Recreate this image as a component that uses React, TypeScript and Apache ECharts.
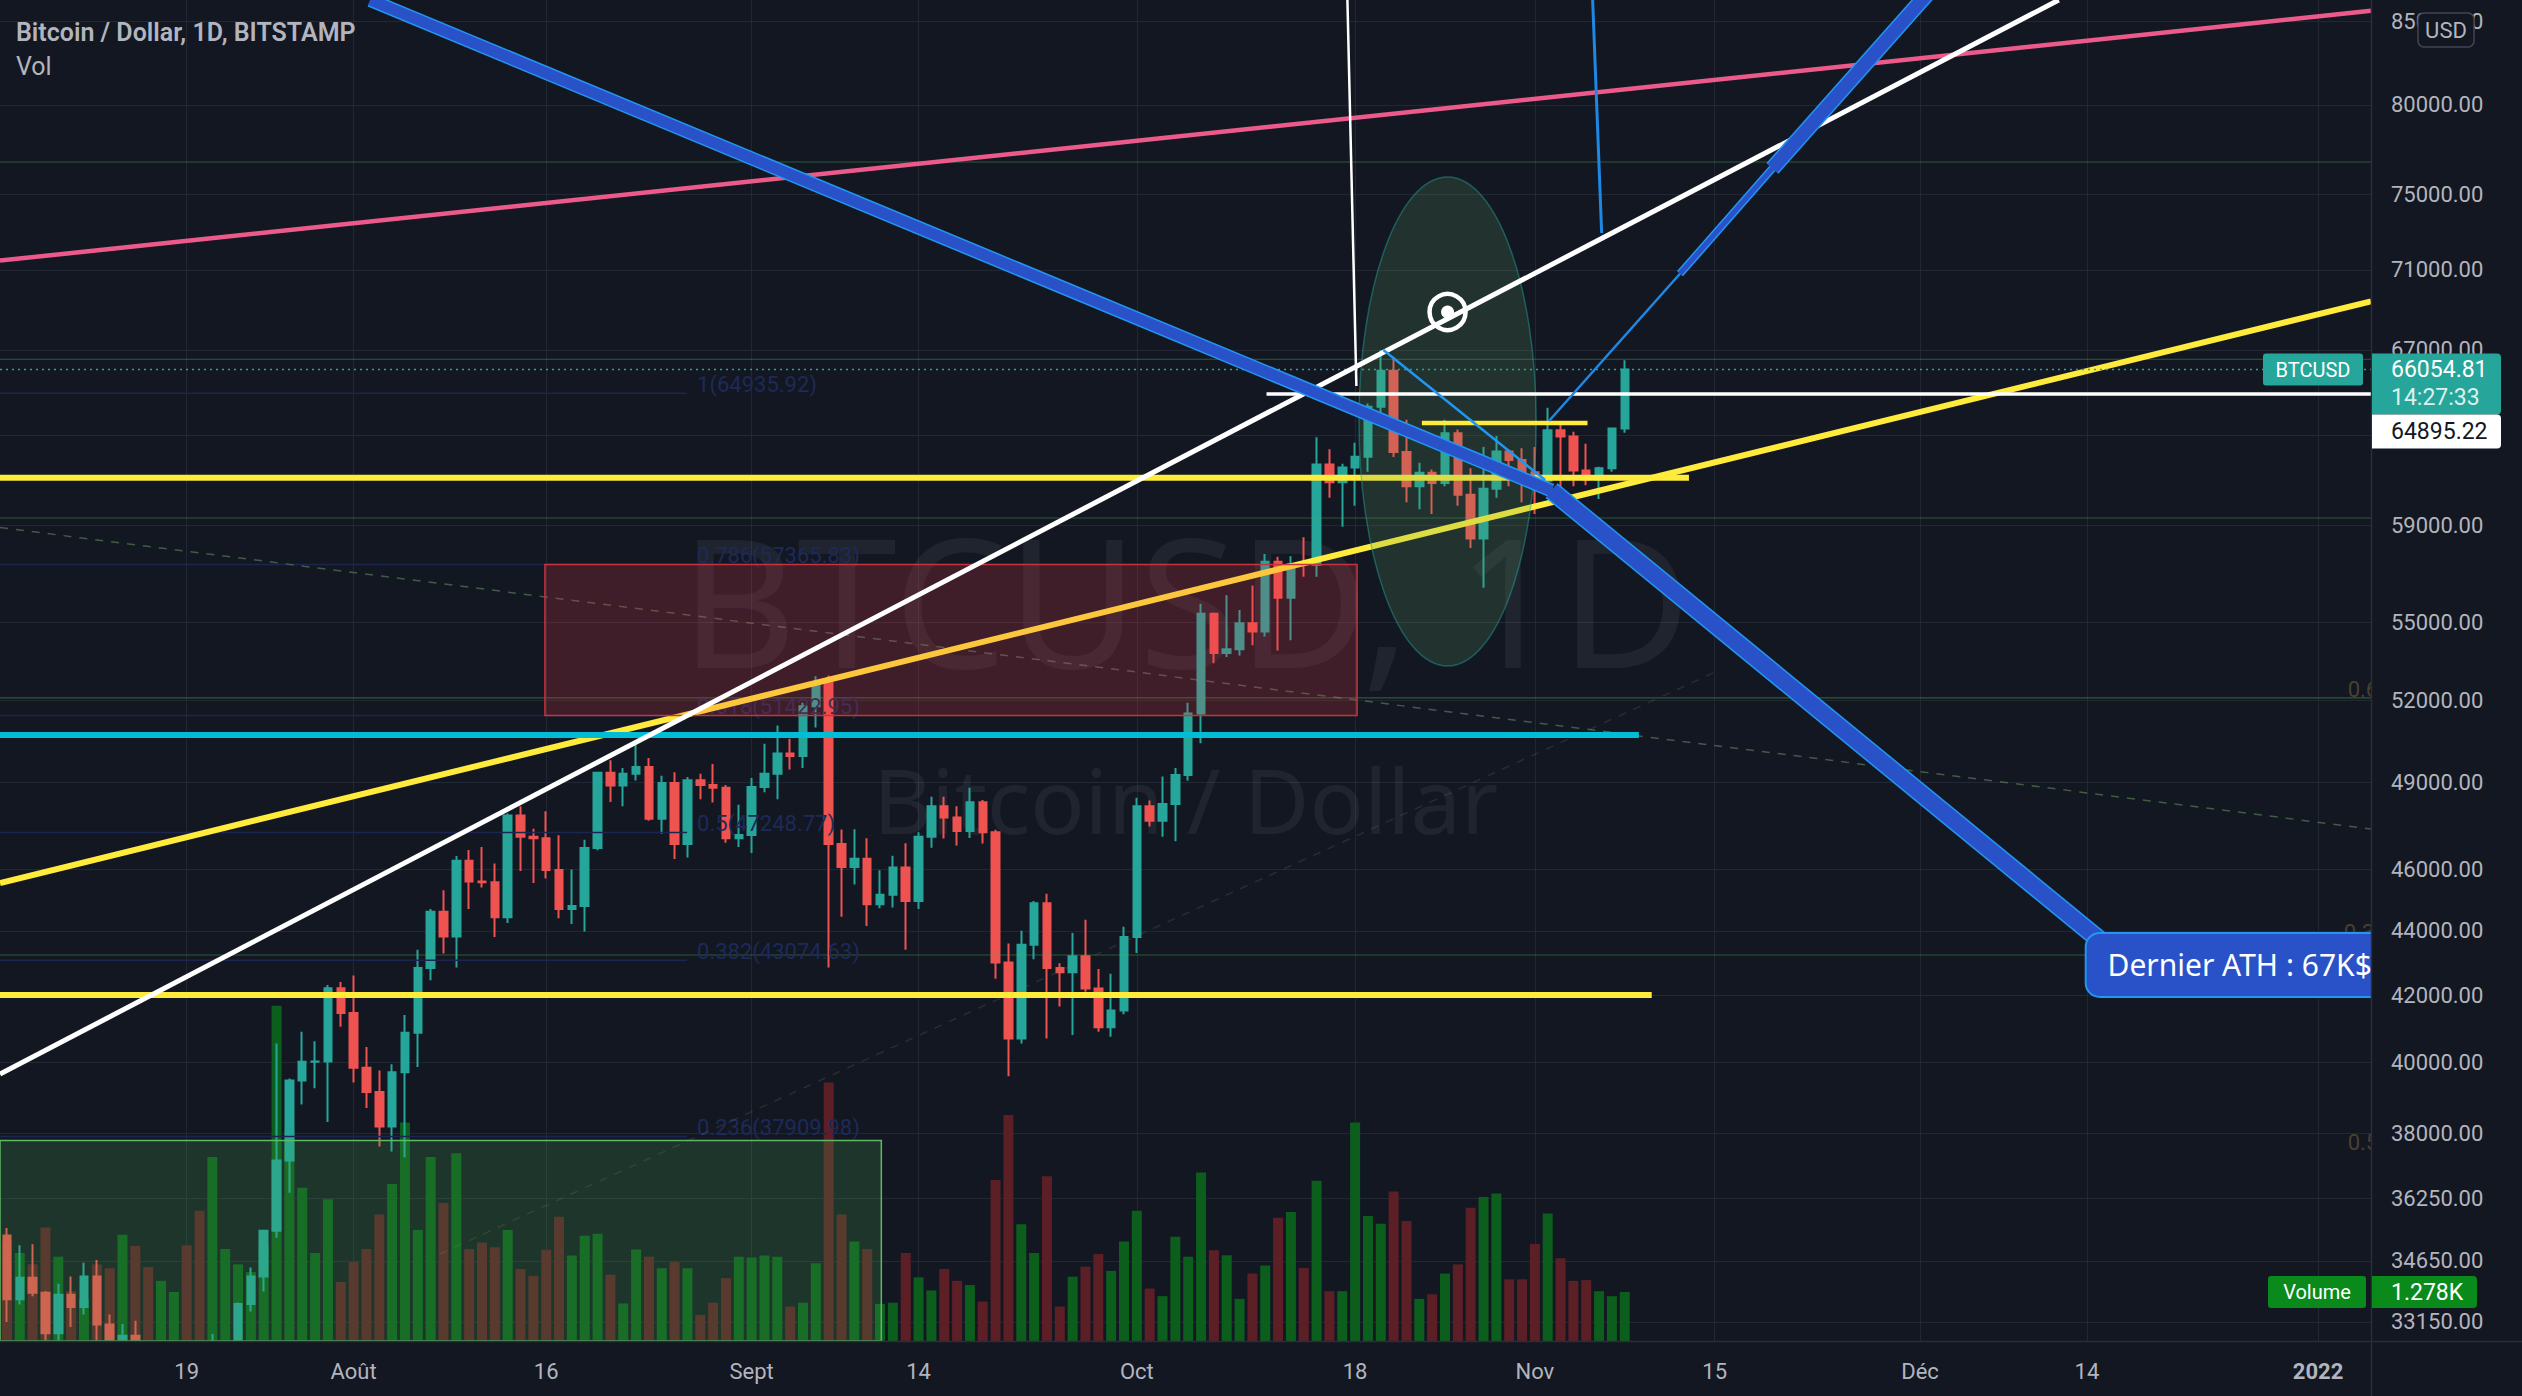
import React, { useEffect, useRef } from "react";
import * as echarts from "echarts";

// ---------------- DATA ----------------
const dates: string[] = [
  "2021-07-05","2021-07-06","2021-07-07","2021-07-08","2021-07-09","2021-07-10","2021-07-11","2021-07-12","2021-07-13","2021-07-14",
  "2021-07-15","2021-07-16","2021-07-17","2021-07-18","2021-07-19","2021-07-20","2021-07-21","2021-07-22","2021-07-23","2021-07-24",
  "2021-07-25","2021-07-26","2021-07-27","2021-07-28","2021-07-29","2021-07-30","2021-07-31",
  "2021-08-01","2021-08-02","2021-08-03","2021-08-04","2021-08-05","2021-08-06","2021-08-07","2021-08-08","2021-08-09","2021-08-10",
  "2021-08-11","2021-08-12","2021-08-13","2021-08-14","2021-08-15","2021-08-16","2021-08-17","2021-08-18","2021-08-19","2021-08-20",
  "2021-08-21","2021-08-22","2021-08-23","2021-08-24","2021-08-25","2021-08-26","2021-08-27","2021-08-28","2021-08-29","2021-08-30","2021-08-31",
  "2021-09-01","2021-09-02","2021-09-03","2021-09-04","2021-09-05","2021-09-06","2021-09-07","2021-09-08","2021-09-09","2021-09-10",
  "2021-09-11","2021-09-12","2021-09-13","2021-09-14","2021-09-15","2021-09-16","2021-09-17","2021-09-18","2021-09-19","2021-09-20",
  "2021-09-21","2021-09-22","2021-09-23","2021-09-24","2021-09-25","2021-09-26","2021-09-27","2021-09-28","2021-09-29","2021-09-30",
  "2021-10-01","2021-10-02","2021-10-03","2021-10-04","2021-10-05","2021-10-06","2021-10-07","2021-10-08","2021-10-09","2021-10-10",
  "2021-10-11","2021-10-12","2021-10-13","2021-10-14","2021-10-15","2021-10-16","2021-10-17","2021-10-18","2021-10-19","2021-10-20",
  "2021-10-21","2021-10-22","2021-10-23","2021-10-24","2021-10-25","2021-10-26","2021-10-27","2021-10-28","2021-10-29","2021-10-30","2021-10-31",
  "2021-11-01","2021-11-02","2021-11-03","2021-11-04","2021-11-05","2021-11-06","2021-11-07","2021-11-08",
];

const open: number[] = [
  35290,33700,34230,33860,32880,33810,33510,34260,33090,32730,32820,31780,31420,31520,31780,30840,29790,32140,32310,33580,34260,35410,37260,39480,40020,40030,42210,
  41460,39850,39150,38190,39720,40870,42830,44610,43820,46290,45600,45570,44430,47830,47100,47050,45980,44700,44800,46720,49330,48880,49300,49540,47720,48970,46850,49070,48900,48800,47050,
  47160,48830,49300,50030,49940,51770,52670,46850,46080,46360,44850,45160,46060,44960,47100,48150,47760,47300,48290,47250,43000,40700,43560,44890,42830,42700,43200,42200,41030,41530,
  43800,48150,47650,48230,49250,51500,55350,53800,53950,54970,54650,57480,56000,57380,57350,61670,60880,61530,62010,64300,66000,62230,60700,61300,60850,63080,60330,58450,60600,62250,61870,
  61320,60950,63220,62930,61400,61000,61500,63300,
];

const high: number[] = [
  35480,35040,35070,33900,34080,34260,34600,34670,33330,33100,33180,32250,31950,32430,31890,31040,32860,32600,33620,34480,35420,40550,39540,40900,40620,42310,42400,
  42600,40450,39770,39950,41400,43400,44700,45310,46450,46650,46750,46200,47900,48150,47370,47980,47150,46000,47000,49350,49780,49500,50500,49860,49230,49350,49180,49300,49650,48900,48200,
  49150,50380,51050,50560,51900,52900,52930,47350,47360,47050,45970,46460,46880,47250,48480,48480,48150,48800,48370,47340,43600,44000,44960,45200,42980,43930,44350,42800,42650,44130,
  48450,48350,49200,49500,51900,55750,55400,56100,55500,56500,57800,57680,57700,58500,62900,62350,61700,62650,64450,67000,66650,63700,61750,61450,63700,63250,61500,62450,62950,62350,62400,
  62450,64250,63500,63150,62600,61570,63330,66500,
];

const low: number[] = [
  33150,33570,33770,32100,32260,33030,33330,32680,32240,31600,31180,31050,31160,31110,30450,29300,29480,31710,32000,33400,33890,35230,36400,38800,39260,38310,41050,
  39420,38700,37640,37500,37350,39870,42450,43280,42850,44700,45400,43800,44250,45950,45550,45700,44400,44220,43980,46640,48300,48150,49060,47650,47200,46350,46400,48400,48280,46900,46750,
  46550,48640,48400,49450,49500,50980,42850,44450,45500,44150,44720,44750,43400,44700,46730,47040,46800,47060,46870,42500,39600,40550,43100,40700,41650,40800,42100,40900,40750,41420,
  43300,47450,47100,46950,49050,50400,53400,53650,53700,54100,54450,53900,54300,56850,56850,60200,58950,59850,61350,63550,62000,60000,59700,59500,60700,59850,58050,56400,60200,60700,60000,
  59500,60700,60400,60700,60750,60150,61350,63100,
];

const close: number[] = [
  33700,34230,33860,32880,33810,33510,34260,33090,32730,32820,31780,31420,31520,31780,30840,29790,32140,32310,33580,34260,35410,37260,39480,40020,40030,42210,41460,
  39850,39150,38190,39720,40870,42830,44610,43820,46290,45600,45570,44430,47830,47100,47050,45980,44700,44800,46720,49330,48880,49300,49540,47720,48970,46850,49070,48900,48800,47050,47160,
  48830,49300,50030,49940,51770,52670,46850,46080,46360,44850,45160,46060,44960,47100,48150,47760,47300,48290,47250,43000,40700,43560,44890,42830,42700,43200,42200,41030,41530,43800,
  48150,47650,48230,49250,51500,55350,53800,53950,54970,54650,57480,56000,57380,57350,61670,60880,61530,62010,64300,66000,62230,60700,61300,60850,63080,60330,58450,60600,62250,61870,61320,
  60950,63220,62930,61400,61000,61500,63300,66054.81,
];

// volume in thousands of BTC
const volumeK: number[] = [
  2.6,2.3,2.0,2.96,2.2,1.3,1.1,2.0,1.9,2.77,2.48,1.93,1.57,1.28,2.5,3.4,4.8,2.4,2.0,1.8,2.5,8.75,5.5,4.0,2.3,3.7,1.54,
  2.06,2.4,3.3,4.1,5.7,2.9,4.8,3.6,4.9,2.4,2.57,2.45,2.9,1.88,1.7,2.38,3.24,2.23,2.75,2.8,1.73,0.98,2.39,2.2,1.9,2.06,1.9,0.68,1.0,1.64,2.2,
  2.18,2.23,2.2,0.9,1.0,2.03,6.75,3.3,2.6,2.4,0.97,1.0,2.3,1.66,1.32,1.88,1.57,1.46,1.03,4.2,5.9,3.05,2.3,4.3,0.9,1.68,1.94,2.27,1.83,2.6,
  3.4,1.37,1.17,2.72,2.2,4.4,2.37,2.24,1.1,1.76,1.97,3.22,3.37,1.91,4.18,1.3,1.3,5.7,3.26,3.06,3.9,3.13,1.1,1.22,1.76,2.0,3.48,3.76,3.85,1.61,1.61,
  2.53,3.33,2.16,1.57,1.59,1.3,1.17,1.278,
];

const priceTicks = [85000, 80000, 75000, 71000, 67000, 63000, 59000, 55000, 52000, 49000, 46000, 44000, 42000, 40000, 38000, 36250, 34650, 33150];
const timeTickIndex = [14, 27, 42, 58, 71, 88, 105, 119, 133, 149, 162, 180];
const timeTickLabels = ["19", "Août", "16", "Sept", "14", "Oct", "18", "Nov", "15", "Déc", "14", "2022"];

const lastPrice = 66054.81;
const markedPrice = 64895.22;
const lastVolumeLabel = "1.278K";
const countdown = "14:27:33";

const fibRatios = [1, 0.786, 0.618, 0.5, 0.382, 0.236];
const fibPrices = [64935.92, 57365.83, 51422.95, 47248.77, 43074.63, 37909.98];
const levelPrices = [76767, 66550, 59326, 52078, 43235];

// ---------------- SETTINGS ----------------
const X_MIN = -0.54;
const X_MAX = 184.12;
const P_MIN = 32695;
const P_MAX = 86318;
const VOL_MAX = 35;

const BG = "#131722";
const GRID = "#232733";
const TXT = "#b2b5be";
const UP = "#26a69a";
const DOWN = "#ef5350";
const VOL_UP = "#0c5e1d";
const VOL_DOWN = "#5c1f26";
const FONT = "Roboto, 'Noto Sans', sans-serif";

function buildOption(): any {
  const candleData = dates.map((_, i) => [i, open[i], close[i], low[i], high[i]]);
  const volData = dates.map((_, i) => ({
    value: [i, volumeK[i]],
    itemStyle: { color: close[i] >= open[i] ? VOL_UP : VOL_DOWN },
  }));
  return {
    animation: false,
    backgroundColor: BG,
    textStyle: { fontFamily: FONT },
    grid: { left: 0, top: 0, right: 151, bottom: 55 },
    xAxis: [
      {
        type: "value",
        min: X_MIN,
        max: X_MAX,
        z: 10,
        axisLine: { show: false },
        axisTick: { show: false, customValues: timeTickIndex },
        axisLabel: {
          customValues: timeTickIndex,
          formatter: (v: number) => {
            const k = timeTickIndex.indexOf(Math.round(v));
            const s = timeTickLabels[k] ?? "";
            return s === "2022" ? `{b|${s}}` : s;
          },
          color: TXT,
          fontSize: 22,
          fontFamily: FONT,
          margin: 19,
          rich: { b: { fontWeight: "bold", fontSize: 22, color: TXT, fontFamily: FONT } },
        },
        splitLine: { show: false },
      },
      {
        type: "value",
        min: X_MIN,
        max: X_MAX,
        z: 0,
        axisLine: { show: false },
        axisTick: { show: false, customValues: timeTickIndex },
        axisLabel: { show: false, customValues: timeTickIndex },
        splitLine: { show: true, lineStyle: { color: GRID, width: 1 } },
      },
    ],
    yAxis: [
      {
        type: "log",
        logBase: 10,
        min: P_MIN,
        max: P_MAX,
        position: "right",
        z: 10,
        axisLine: { show: false },
        axisTick: { show: false, customValues: priceTicks },
        axisLabel: {
          customValues: priceTicks,
          formatter: (v: number) => Number(v).toFixed(2),
          color: TXT,
          fontSize: 22,
          fontFamily: FONT,
          margin: 20,
        },
        splitLine: { show: false },
      },
      { type: "value", min: 0, max: VOL_MAX, show: false, position: "left", splitLine: { show: false } },
      {
        type: "log",
        logBase: 10,
        min: P_MIN,
        max: P_MAX,
        position: "right",
        z: 0,
        axisLine: { show: false },
        axisTick: { show: false, customValues: priceTicks },
        axisLabel: { show: false, customValues: priceTicks },
        splitLine: { show: true, lineStyle: { color: GRID, width: 1 } },
      },
    ],
    series: [
      {
        type: "bar",
        name: "Vol",
        xAxisIndex: 0,
        yAxisIndex: 1,
        barWidth: 10,
        z: 1,
        data: volData,
      },
      {
        type: "candlestick",
        name: "BTCUSD",
        xAxisIndex: 0,
        yAxisIndex: 0,
        z: 2,
        barWidth: 8,
        clip: true,
        dimensions: ["day", "open", "close", "lowest", "highest"],
        encode: { x: 0, y: [1, 2, 3, 4] },
        itemStyle: { color: UP, color0: DOWN, borderColor: UP, borderColor0: DOWN, borderWidth: 2 },
        data: candleData,
      },
    ],
  };
}

function buildGraphic(chart: any): any[] {
  const toPx = (x: number, p: number): number[] =>
    chart.convertToPixel({ xAxisIndex: 0, yAxisIndex: 0 }, [x, p]) as number[];
  const volPx = (x: number, v: number): number[] =>
    chart.convertToPixel({ xAxisIndex: 0, yAxisIndex: 1 }, [x, v]) as number[];
  const [L, T] = toPx(X_MIN, P_MAX);
  const [R, B] = toPx(X_MAX, P_MIN);
  const W = 2522;
  const H = 1396;
  const g: any[] = [];

  const line = (a: number[], b: number[], stroke: string, w: number, z = 4, extra: any = {}) => {
    const p = toPx(a[0], a[1]);
    const q = toPx(b[0], b[1]);
    g.push({
      type: "line", z, silent: true,
      shape: { x1: p[0], y1: p[1], x2: q[0], y2: q[1] },
      style: { stroke, lineWidth: w, ...extra },
    });
  };
  const text = (x: number, y: number, s: string, font: string, fill: string, z = 4, align = "left", va = "middle") => {
    g.push({
      type: "text", z, silent: true,
      style: { text: s, x, y, font, fill, align, textAlign: align, verticalAlign: va, textVerticalAlign: va },
    });
  };
  const rect = (x: number, y: number, w: number, h: number, style: any, z = 4, r: any = 0) => {
    g.push({ type: "rect", z, silent: true, shape: { x, y, width: w, height: h, r }, style });
  };

  // watermark
  const cx = (L + R) / 2;
  const cy = (T + B) / 2;
  text(cx, cy - 72, "BTCUSD, 1D", `180px 'Noto Sans', sans-serif`, "rgba(255,255,255,0.06)", 0, "center");
  text(cx, cy + 128, "Bitcoin / Dollar", `90px 'Noto Sans', sans-serif`, "rgba(255,255,255,0.06)", 0, "center");

  // thin green horizontal levels
  levelPrices.forEach((p) => line([X_MIN, p], [X_MAX, p], "rgba(76,175,80,0.45)", 1.2, 3));

  // fib levels
  fibPrices.forEach((p, i) => {
    line([X_MIN, p], [52.97, p], "#1c2550", 1.5, 3);
    const q = toPx(53.75, p);
    text(q[0], q[1] + 2, `${fibRatios[i]}(${p.toFixed(2)})`, `22px ${FONT}`, "#1d2a58", 3, "left", "bottom");
  });

  // faint dashed lines
  line([X_MIN, 58916], [X_MAX, 47366], "rgba(110,160,110,0.5)", 1.5, 3, { lineDash: [8, 8] });
  line([33.7, 34820], [133.4, 53143], "rgba(120,140,100,0.2)", 1.5, 3, { lineDash: [8, 8] });

  // faint cut labels on the right edge
  const e1 = toPx(182.3, 52400);
  text(e1[0], e1[1], "0.6", `22px ${FONT}`, "#4a4030", 3);
  const e2 = toPx(182.0, 43930);
  text(e2[0], e2[1], "0.3", `22px ${FONT}`, "#4a4030", 3);
  const e3 = toPx(182.3, 37740);
  text(e3[0], e3[1], "0.5", `22px ${FONT}`, "#4a4030", 3);

  // boxes
  const r1 = toPx(41.9, 57365.83);
  const r2 = toPx(105.15, 51422.95);
  rect(r1[0], r1[1], r2[0] - r1[0], r2[1] - r1[1], { fill: "rgba(242,54,69,0.2)", stroke: "#c7343f", lineWidth: 1.5 }, 5);
  const g1 = toPx(X_MIN, 37800);
  const g2 = toPx(68.1, P_MIN);
  rect(g1[0], g1[1], g2[0] - g1[0], g2[1] - g1[1], { fill: "rgba(76,175,80,0.2)", stroke: "#5fb865", lineWidth: 1.5 }, 5);

  // ellipse
  const el = toPx(105.3, 63619);
  const er = toPx(119.1, 63619);
  const et = toPx(112.2, 75934);
  const eb = toPx(112.2, 53297);
  g.push({
    type: "ellipse", z: 5, silent: true,
    shape: { cx: (el[0] + er[0]) / 2, cy: (et[1] + eb[1]) / 2, rx: (er[0] - el[0]) / 2, ry: (eb[1] - et[1]) / 2 },
    style: { fill: "rgba(90,160,100,0.2)", stroke: "rgba(38,166,154,0.45)", lineWidth: 1.5 },
  });

  // coloured lines
  line([X_MIN, 71478], [X_MAX, 85650], "#ec5a8c", 4.5, 4);
  line([X_MIN, 45549], [X_MAX, 69400], "#ffeb3b", 6, 4);
  line([X_MIN, 61082], [131.0, 61082], "#ffeb3b", 6, 4);
  line([X_MIN, 42000], [128.1, 42000], "#ffeb3b", 6, 4);
  line([X_MIN, 50698], [127.1, 50698], "#00bcd4", 6, 4);
  line([110.2, 63550], [123.1, 63550], "#ffeb3b", 4.5, 6);

  // current price dotted
  line([X_MIN, lastPrice], [X_MAX, lastPrice], UP, 1.5, 6, { lineDash: [2, 4] });

  // white lines
  line([X_MIN, 39666], [159.8, 86318], "#ffffff", 5, 6);
  line([104.4, 86318], [105.1, 65274], "#ffffff", 2.5, 6);
  line([98.1, markedPrice], [X_MAX, markedPrice], "#ffffff", 3.5, 6);

  // blue thin lines
  line([107.2, 66998], [119.8, 60976], "#2196f3", 2.5, 6);
  line([123.5, 86318], [124.2, 72919], "#1e88e5", 3, 6);
  line([120.1, 63642], [130.3, 70802], "#1e88e5", 2.5, 6);

  // blue thick lines (outline then inner)
  const thick: [number[], number[], number][] = [
    [[28.3, 86318], [120.3, 60515], 11],
    [[120.3, 60515], [163.0, 43704], 16],
    [[130.3, 70802], [137.5, 76411], 5],
    [[137.5, 76411], [150.6, 87640], 13],
  ];
  thick.forEach(([a, b, w]) => line(a, b, "#2196f3", w + 3, 6));
  thick.forEach(([a, b, w]) => line(a, b, "#2a52c8", w, 7));

  // target icon
  const tc = toPx(112.2, 68866);
  g.push({ type: "circle", z: 7, silent: true, shape: { cx: tc[0], cy: tc[1], r: 18 }, style: { fill: "none", stroke: "#ffffff", lineWidth: 4.5 } });
  g.push({ type: "circle", z: 7, silent: true, shape: { cx: tc[0], cy: tc[1], r: 6.5 }, style: { fill: "#ffffff" } });

  // callout
  const c1 = toPx(161.9, 43931);
  const c2 = toPx(161.9, 41942);
  rect(c1[0], c1[1], 520, c2[1] - c1[1], { fill: "#2a52c8", stroke: "#2196f3", lineWidth: 2 }, 7, 14);
  const ct = toPx(163.6, 42925);
  text(ct[0], ct[1], "Dernier ATH : 67K$", `30px 'Noto Sans', sans-serif`, "#ffffff", 7);

  // right price panel and bottom time panel (cover overflow)
  rect(R + 1, 0, W - R, B, { fill: BG }, 8);
  rect(0, B + 1, W, H - B, { fill: BG }, 8);
  // separators
  g.push({ type: "line", z: 9, silent: true, shape: { x1: R + 0.5, y1: 0, x2: R + 0.5, y2: H }, style: { stroke: "#2a2e39", lineWidth: 1.5 } });
  g.push({ type: "line", z: 9, silent: true, shape: { x1: 0, y1: B + 0.5, x2: W, y2: B + 0.5 }, style: { stroke: "#2a2e39", lineWidth: 1.5 } });

  // USD box
  rect(2418, 13, 56, 34, { fill: BG, stroke: "#434651", lineWidth: 1.5 }, 20, 6);
  text(2446, 30, "USD", `22px ${FONT}`, TXT, 21, "center");

  // last price tags
  const lp = toPx(X_MAX, lastPrice);
  rect(2263, lp[1] - 16, 100, 32, { fill: UP }, 20, 3);
  text(2313, lp[1], "BTCUSD", `20px ${FONT}`, "#ffffff", 21, "center");
  rect(R + 1, lp[1] - 16, 129, 61, { fill: UP }, 20, [0, 4, 4, 0]);
  text(R + 20, lp[1], lastPrice.toFixed(2), `23px ${FONT}`, "#ffffff", 21);
  text(R + 20, lp[1] + 28, countdown, `23px ${FONT}`, "rgba(255,255,255,0.85)", 21);
  rect(R + 1, lp[1] + 45, 129, 34, { fill: "#ffffff" }, 20, [0, 4, 4, 0]);
  text(R + 20, lp[1] + 62, markedPrice.toFixed(2), `23px ${FONT}`, "#131722", 21);

  // volume tags
  const vp = volPx(dates.length - 1, volumeK[volumeK.length - 1]);
  rect(2268, vp[1] - 16, 98, 32, { fill: "#0a8a1b" }, 20, 3);
  text(2317, vp[1], "Volume", `20px ${FONT}`, "#ffffff", 21, "center");
  rect(R + 1, vp[1] - 16, 105, 32, { fill: "#0a8a1b" }, 20, [0, 4, 4, 0]);
  text(R + 20, vp[1], lastVolumeLabel, `23px ${FONT}`, "#ffffff", 21);

  // header
  text(16, 32, "Bitcoin / Dollar, 1D, BITSTAMP", `600 25px ${FONT}`, TXT, 21);
  text(16, 66, "Vol", `25px ${FONT}`, TXT, 21);

  return g;
}

export default function App() {
  const ref = useRef<HTMLDivElement>(null);
  useEffect(() => {
    if (!ref.current) return;
    const chart = echarts.init(ref.current, undefined, { renderer: "svg" });
    chart.setOption(buildOption());
    chart.setOption({ graphic: { elements: buildGraphic(chart) } });
    return () => chart.dispose();
  }, []);
  return (
    <div
      ref={ref}
      style={{ position: "fixed", left: 0, top: 0, width: 2522, height: 1396, background: BG }}
    />
  );
}
